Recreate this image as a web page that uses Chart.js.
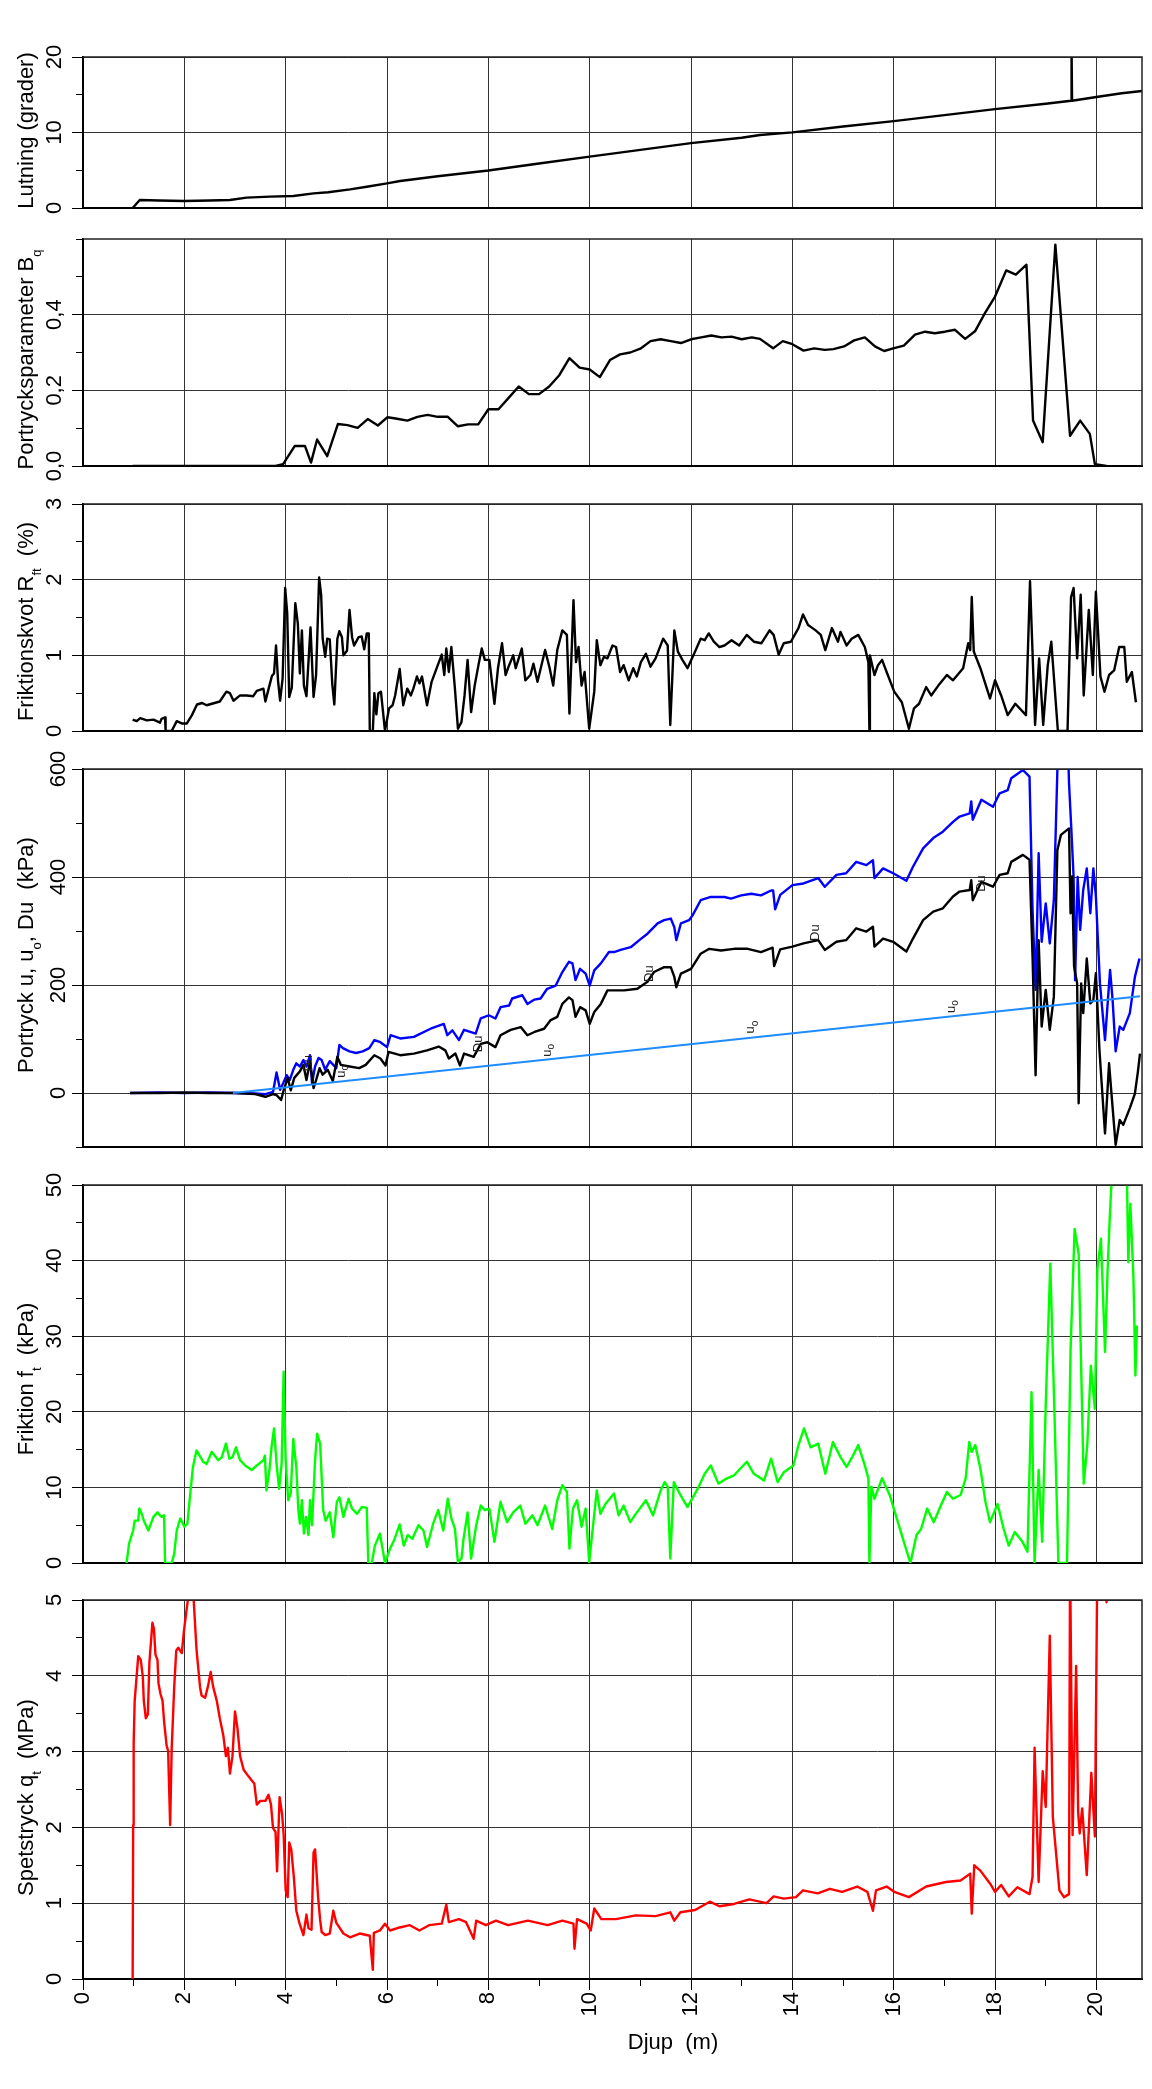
<!DOCTYPE html>
<html lang="sv">
<head>
<meta charset="utf-8">
<title>Sondering – djupdiagram</title>
<script src="https://cdn.jsdelivr.net/npm/chart.js"></script>
<style>
    body { margin: 0; background: #fff; }
    #ram { position: relative; width: 1152px; height: 2089px; background: #fff; overflow: hidden; }
    #ram canvas { position: absolute; left: 0; }
</style>
</head>
<body>
<div id="ram">
    <canvas id="lutningChart"></canvas>
    <canvas id="bqChart"></canvas>
    <canvas id="rfChart"></canvas>
    <canvas id="portryckChart"></canvas>
    <canvas id="friktionChart"></canvas>
    <canvas id="spetsChart"></canvas>
</div>
<script>
// Djupaxel (m)
const DJUP_MIN = 0;
const DJUP_MAX = 20.9;

// Lutning (grader) – [djup, värde]
const lutning = [[0.98,0],[1.12,1.06],[1.5,1.0],[2.0,0.93],[2.5,1.0],[2.9,1.06],[3.23,1.37],[3.69,1.5],[4.15,1.59],[4.55,1.94],[4.84,2.08],[5.27,2.47],[5.6,2.82],[6.0,3.27],[6.26,3.58],[7.0,4.2],[8.0,4.97],[9.0,5.9],[10.0,6.8],[11.0,7.7],[12.0,8.6],[13.0,9.3],[13.36,9.67],[14.0,10.02],[15.0,10.8],[16.0,11.5],[17.0,12.3],[18.0,13.1],[19.0,13.8],[19.5,14.2],[19.51,21],[19.52,14.2],[20.0,14.7],[20.5,15.2],[20.9,15.5]];

// Portrycksparameter Bq
const bq = [[0.98,0],[2.0,0],[3.0,0],[3.8,0],[3.95,0.005],[4.18,0.053],[4.38,0.053],[4.5,0.009],[4.62,0.07],[4.82,0.026],[5.03,0.111],[5.22,0.108],[5.42,0.101],[5.62,0.124],[5.82,0.107],[6.01,0.129],[6.2,0.125],[6.4,0.12],[6.6,0.13],[6.8,0.135],[7.0,0.13],[7.2,0.13],[7.4,0.105],[7.6,0.11],[7.8,0.11],[8.0,0.15],[8.2,0.15],[8.4,0.18],[8.6,0.21],[8.8,0.19],[9.0,0.19],[9.2,0.21],[9.4,0.24],[9.6,0.285],[9.8,0.26],[10.0,0.255],[10.2,0.235],[10.4,0.28],[10.6,0.295],[10.8,0.30],[11.0,0.31],[11.2,0.33],[11.4,0.335],[11.6,0.33],[11.8,0.325],[12.0,0.335],[12.2,0.34],[12.4,0.345],[12.6,0.34],[12.8,0.342],[13.0,0.335],[13.2,0.34],[13.36,0.336],[13.62,0.311],[13.81,0.33],[14.0,0.322],[14.22,0.305],[14.43,0.311],[14.64,0.307],[14.81,0.309],[15.02,0.316],[15.22,0.332],[15.43,0.34],[15.63,0.316],[15.81,0.304],[15.99,0.311],[16.2,0.318],[16.42,0.347],[16.62,0.355],[16.81,0.351],[17.01,0.355],[17.21,0.36],[17.41,0.336],[17.61,0.357],[17.8,0.404],[18.0,0.448],[18.22,0.517],[18.41,0.506],[18.62,0.532],[18.75,0.12],[18.94,0.063],[19.19,0.585],[19.48,0.08],[19.68,0.12],[19.87,0.085],[19.97,0.005],[20.2,0]];

// Friktionskvot Rft (%)
const rf = [[0.98,0.15],[1.06,0.13],[1.13,0.17],[1.26,0.14],[1.39,0.15],[1.52,0.11],[1.55,0.16],[1.62,0.18],[1.63,0],[1.75,0],[1.85,0.13],[1.95,0.1],[2.05,0.1],[2.15,0.21],[2.25,0.35],[2.35,0.37],[2.44,0.34],[2.7,0.39],[2.83,0.52],[2.9,0.5],[2.97,0.4],[3.1,0.47],[3.23,0.47],[3.36,0.46],[3.43,0.53],[3.56,0.56],[3.6,0.39],[3.66,0.55],[3.73,0.73],[3.77,0.76],[3.81,1.13],[3.85,0.66],[3.89,0.4],[3.94,0.7],[3.99,1.89],[4.03,1.56],[4.07,0.45],[4.12,0.57],[4.19,1.69],[4.24,1.42],[4.28,0.76],[4.32,1.33],[4.36,0.6],[4.41,0.46],[4.49,1.37],[4.55,0.45],[4.6,0.74],[4.66,2.03],[4.7,1.8],[4.73,1.22],[4.78,0.98],[4.82,1.22],[4.87,1.21],[4.92,0.62],[4.96,0.35],[5.02,1.22],[5.06,1.32],[5.11,1.24],[5.14,1.0],[5.21,1.06],[5.26,1.6],[5.31,1.24],[5.35,1.13],[5.44,1.24],[5.5,1.25],[5.55,1.08],[5.6,1.29],[5.64,1.29],[5.66,0],[5.72,0],[5.75,0.5],[5.79,0.22],[5.83,0.5],[5.88,0.52],[5.96,0],[6.04,0.3],[6.11,0.34],[6.16,0.47],[6.25,0.82],[6.32,0.34],[6.4,0.56],[6.47,0.47],[6.52,0.56],[6.59,0.72],[6.64,0.63],[6.69,0.72],[6.79,0.34],[6.88,0.65],[6.98,0.83],[7.08,1.01],[7.13,0.74],[7.17,1.09],[7.22,0.78],[7.27,1.11],[7.34,0.56],[7.4,0.03],[7.47,0.12],[7.53,0.47],[7.59,0.94],[7.66,0.25],[7.73,0.6],[7.81,0.89],[7.87,1.09],[7.93,0.94],[8.02,0.94],[8.12,0.36],[8.19,0.83],[8.27,1.16],[8.34,0.74],[8.41,0.87],[8.49,1.0],[8.54,0.83],[8.66,1.09],[8.73,0.67],[8.83,0.74],[8.89,0.89],[8.97,0.65],[9.12,1.07],[9.21,0.83],[9.28,0.6],[9.36,1.07],[9.46,1.33],[9.55,1.27],[9.6,0.23],[9.68,1.73],[9.73,0.91],[9.78,1.11],[9.84,0.6],[9.9,0.78],[9.99,0.03],[10.09,0.52],[10.14,1.2],[10.21,0.87],[10.28,0.98],[10.35,0.96],[10.45,1.13],[10.52,1.11],[10.6,0.78],[10.67,0.87],[10.77,0.67],[10.86,0.83],[10.93,0.72],[11.01,0.91],[11.11,1.02],[11.2,0.85],[11.3,0.96],[11.45,1.22],[11.54,1.13],[11.59,0.08],[11.67,1.33],[11.74,1.05],[11.83,0.94],[11.93,0.83],[12.08,1.05],[12.19,1.22],[12.27,1.2],[12.35,1.29],[12.45,1.18],[12.56,1.11],[12.66,1.13],[12.8,1.2],[12.95,1.13],[13.1,1.27],[13.24,1.18],[13.39,1.16],[13.55,1.33],[13.63,1.27],[13.73,1.01],[13.83,1.16],[13.97,1.18],[14.12,1.36],[14.21,1.54],[14.31,1.4],[14.46,1.33],[14.56,1.27],[14.65,1.07],[14.78,1.36],[14.9,1.18],[14.95,1.31],[15.07,1.13],[15.17,1.22],[15.3,1.27],[15.43,1.11],[15.5,0.91],[15.52,0],[15.53,1.0],[15.62,0.74],[15.69,0.87],[15.77,0.94],[15.86,0.78],[16.01,0.52],[16.16,0.38],[16.3,0.03],[16.4,0.3],[16.5,0.36],[16.64,0.58],[16.74,0.47],[16.88,0.6],[17.05,0.74],[17.17,0.67],[17.37,0.83],[17.47,1.16],[17.51,1.07],[17.54,1.77],[17.58,1.05],[17.71,0.83],[17.9,0.43],[18.0,0.67],[18.12,0.47],[18.25,0.21],[18.4,0.36],[18.61,0.21],[18.69,1.98],[18.79,0.08],[18.87,0.96],[18.95,0.08],[19.04,0.87],[19.11,1.18],[19.24,0],[19.43,0],[19.5,1.77],[19.55,1.89],[19.62,0.96],[19.69,1.8],[19.75,0.47],[19.85,1.6],[19.93,0.74],[19.99,1.84],[20.08,0.72],[20.16,0.52],[20.25,0.74],[20.35,0.8],[20.45,1.11],[20.55,1.11],[20.6,0.65],[20.7,0.78],[20.78,0.38]];

// Portryck u (kPa)
const portryckU = [[0.93,0],[1.5,1],[2.0,0],[2.5,1],[3.0,0],[3.4,-1],[3.6,-2],[3.75,2],[3.82,38],[3.89,6],[3.95,18],[4.02,33],[4.08,24],[4.15,43],[4.21,55],[4.28,49],[4.35,61],[4.41,49],[4.48,70],[4.52,18],[4.58,49],[4.65,65],[4.71,61],[4.78,43],[4.87,59],[5.0,46],[5.06,89],[5.13,83],[5.26,77],[5.39,74],[5.52,77],[5.65,83],[5.75,98],[5.87,94],[6.0,85],[6.07,107],[6.26,101],[6.53,104],[6.86,119],[7.12,128],[7.19,107],[7.29,116],[7.42,98],[7.52,117],[7.75,110],[7.85,138],[8.01,144],[8.14,138],[8.24,159],[8.41,162],[8.47,175],[8.67,181],[8.77,165],[8.91,173],[9.03,175],[9.16,193],[9.33,199],[9.46,224],[9.59,243],[9.66,240],[9.72,209],[9.81,230],[9.92,221],[10.0,199],[10.09,227],[10.22,240],[10.38,261],[10.48,261],[10.61,265],[10.81,270],[10.98,283],[11.14,295],[11.34,314],[11.47,320],[11.6,323],[11.67,307],[11.71,283],[11.8,314],[11.96,320],[12.03,329],[12.19,357],[12.39,363],[12.66,363],[12.79,360],[12.99,366],[13.19,369],[13.38,366],[13.58,375],[13.62,375],[13.66,340],[13.76,367],[14.0,385],[14.22,388],[14.51,398],[14.64,382],[14.87,404],[15.06,407],[15.26,428],[15.46,422],[15.59,431],[15.62,398],[15.79,416],[15.99,407],[16.25,393],[16.38,419],[16.58,453],[16.78,472],[16.97,484],[17.17,502],[17.3,512],[17.5,518],[17.53,540],[17.56,506],[17.73,543],[17.96,530],[18.09,555],[18.25,561],[18.32,583],[18.55,598],[18.68,586],[18.74,339],[18.8,191],[18.86,444],[18.92,280],[19.0,351],[19.08,277],[19.16,357],[19.23,598],[19.3,700],[19.42,700],[19.46,573],[19.5,499],[19.55,400],[19.58,209],[19.63,400],[19.68,302],[19.74,376],[19.81,416],[19.88,333],[19.94,416],[19.99,364],[20.07,203],[20.17,98],[20.27,228],[20.32,172],[20.38,77],[20.46,123],[20.53,117],[20.66,148],[20.76,215],[20.85,249]];

// Portrycksökning Du (kPa)
const portryckDu = [[0.93,0],[1.5,0],[2.0,1],[2.5,0],[3.0,0],[3.4,-2],[3.6,-7],[3.75,-2],[3.82,-4],[3.91,-13],[3.96,5],[4.04,28],[4.1,5],[4.17,28],[4.28,40],[4.35,52],[4.41,24],[4.48,58],[4.55,9],[4.6,24],[4.67,46],[4.73,34],[4.83,43],[4.93,22],[5.02,67],[5.09,52],[5.26,49],[5.45,46],[5.58,52],[5.75,70],[5.87,64],[5.97,51],[6.03,76],[6.26,70],[6.53,73],[6.79,79],[7.02,86],[7.15,79],[7.22,64],[7.35,73],[7.44,51],[7.52,73],[7.71,67],[7.85,91],[7.98,94],[8.14,85],[8.24,107],[8.44,117],[8.64,122],[8.77,107],[8.91,113],[9.1,119],[9.23,135],[9.36,141],[9.46,165],[9.59,177],[9.66,172],[9.72,141],[9.81,159],[9.92,153],[10.0,128],[10.09,150],[10.22,165],[10.35,190],[10.48,190],[10.68,190],[10.94,193],[11.14,206],[11.27,224],[11.47,233],[11.6,233],[11.67,215],[11.71,196],[11.8,221],[12.0,230],[12.19,258],[12.36,267],[12.59,264],[12.85,267],[13.12,267],[13.38,261],[13.61,269],[13.64,235],[13.76,266],[14.0,271],[14.22,277],[14.51,283],[14.64,265],[14.87,280],[15.06,283],[15.26,305],[15.46,299],[15.59,308],[15.62,271],[15.79,286],[15.99,280],[16.25,262],[16.38,286],[16.58,320],[16.78,336],[16.97,342],[17.17,364],[17.3,373],[17.5,376],[17.53,394],[17.56,357],[17.73,391],[17.96,382],[18.09,404],[18.25,407],[18.32,428],[18.55,441],[18.68,432],[18.74,252],[18.8,33],[18.86,283],[18.92,123],[19.0,191],[19.08,117],[19.16,178],[19.23,450],[19.3,478],[19.46,490],[19.49,333],[19.52,401],[19.56,234],[19.62,203],[19.65,-19],[19.7,203],[19.74,148],[19.81,249],[19.88,166],[19.94,172],[19.99,222],[20.06,80],[20.17,-75],[20.25,55],[20.3,-4],[20.38,-96],[20.46,-50],[20.53,-59],[20.66,-28],[20.76,-1],[20.82,40],[20.86,73]];

// Grundvattentryck u0 (kPa)
const portryckU0 = [[2.96,0],[20.86,179]];

// Kurvetiketter i portrycksdiagrammet: [djup, värde, text, index]
const kurvEtiketter = [
    [4.45,55,'Du',''],[7.81,91,'Du',''],[11.17,221,'Du',''],[14.45,297,'Du',''],[17.73,388,'Du',''],
    [5.1,40,'u','o'],[9.16,79,'u','o'],[13.18,122,'u','o'],[17.14,160,'u','o']
];

// Friktion ft (kPa)
const friktion = [[0.86,0],[0.91,2.6],[0.99,4.3],[1.02,5.6],[1.09,5.6],[1.11,7.2],[1.16,6.5],[1.2,5.6],[1.29,4.3],[1.39,6.1],[1.47,6.7],[1.52,6.3],[1.55,6.1],[1.6,6.3],[1.62,0],[1.75,0],[1.8,1.2],[1.85,4.3],[1.92,5.9],[2.0,4.8],[2.06,5.2],[2.11,8.7],[2.17,12.7],[2.24,14.9],[2.37,13.4],[2.44,13.1],[2.54,14.7],[2.67,13.6],[2.74,14.0],[2.82,15.8],[2.89,13.8],[2.95,14.0],[3.02,15.3],[3.1,13.6],[3.2,12.9],[3.33,12.3],[3.43,12.9],[3.56,13.6],[3.59,14.2],[3.62,9.6],[3.68,12.3],[3.72,15.3],[3.77,17.8],[3.82,13.1],[3.87,9.8],[3.92,13.1],[3.96,25.3],[4.0,13.6],[4.05,8.3],[4.1,9.2],[4.15,16.4],[4.21,12.7],[4.25,7.0],[4.28,5.2],[4.32,8.3],[4.36,3.9],[4.4,6.1],[4.45,3.7],[4.48,8.3],[4.52,5.0],[4.58,13.6],[4.62,17.1],[4.68,15.8],[4.74,7.0],[4.79,5.6],[4.87,6.7],[4.94,3.4],[5.01,8.1],[5.06,8.7],[5.14,6.1],[5.24,8.5],[5.31,7.2],[5.41,6.5],[5.5,7.4],[5.6,7.3],[5.63,0],[5.7,0],[5.76,2.3],[5.83,3.4],[5.86,3.9],[5.96,0],[6.06,1.9],[6.14,3.0],[6.25,5.1],[6.33,2.3],[6.41,3.7],[6.5,3.2],[6.62,5.0],[6.72,4.3],[6.79,2.1],[6.91,5.2],[7.01,7.0],[7.11,4.3],[7.2,8.5],[7.27,5.9],[7.34,4.5],[7.4,0.1],[7.47,0.6],[7.51,3.2],[7.59,6.7],[7.66,0.6],[7.76,5.0],[7.85,7.6],[7.93,7.0],[8.02,7.2],[8.12,2.8],[8.24,8.1],[8.37,5.4],[8.49,6.7],[8.63,7.6],[8.73,5.2],[8.87,6.3],[8.97,5.0],[9.12,7.6],[9.26,4.5],[9.36,8.3],[9.46,10.3],[9.55,9.4],[9.6,1.9],[9.67,7.2],[9.75,8.3],[9.84,4.8],[9.92,7.2],[9.99,0.1],[10.14,9.6],[10.21,6.5],[10.31,7.8],[10.48,9.2],[10.57,6.3],[10.67,7.6],[10.8,5.4],[10.91,6.5],[11.11,8.3],[11.25,6.3],[11.4,9.6],[11.48,10.7],[11.54,10.1],[11.59,0.6],[11.66,10.7],[11.79,9.0],[11.93,7.4],[12.13,9.8],[12.27,11.8],[12.39,12.9],[12.54,10.5],[12.71,11.2],[12.85,11.6],[13.1,13.4],[13.24,11.8],[13.44,10.9],[13.58,13.8],[13.71,10.7],[13.83,12.0],[14.02,12.9],[14.12,15.6],[14.23,17.8],[14.36,15.3],[14.51,15.8],[14.65,11.8],[14.8,16.0],[14.95,14.0],[15.07,12.7],[15.18,14.0],[15.3,15.6],[15.43,12.9],[15.5,11.2],[15.52,0],[15.56,10.1],[15.62,8.5],[15.77,11.2],[15.92,9.0],[16.06,5.9],[16.2,2.8],[16.33,0],[16.45,3.7],[16.54,4.5],[16.66,7.2],[16.79,5.4],[16.93,7.6],[17.05,9.4],[17.17,8.5],[17.32,9.0],[17.42,11.2],[17.49,16.0],[17.54,14.7],[17.61,15.6],[17.71,12.5],[17.81,8.1],[17.9,5.4],[18.05,7.8],[18.17,4.5],[18.27,2.3],[18.39,4.1],[18.54,2.8],[18.64,1.5],[18.72,22.6],[18.78,0],[18.86,12.3],[18.93,2.8],[19.0,20.9],[19.09,39.6],[19.17,20.4],[19.25,0],[19.42,0],[19.49,28.1],[19.57,44.2],[19.65,40.9],[19.75,10.5],[19.82,15.6],[19.89,26.1],[19.97,20.4],[20.02,38.9],[20.09,42.9],[20.17,27.9],[20.22,38.5],[20.26,45.1],[20.31,52],[20.45,60],[20.6,52],[20.63,39.8],[20.67,47.5],[20.73,38.0],[20.77,24.8],[20.8,31.4]];

// Spetstryck qt (MPa)
const spetstryck = [[0.98,0],[0.99,2.03],[1.0,3.12],[1.02,3.67],[1.09,4.26],[1.14,4.21],[1.18,3.99],[1.2,3.67],[1.24,3.44],[1.28,3.49],[1.31,4.17],[1.37,4.7],[1.4,4.62],[1.43,4.28],[1.47,4.21],[1.49,3.9],[1.53,3.76],[1.57,3.67],[1.6,3.4],[1.65,3.08],[1.68,3.01],[1.72,2.03],[1.75,3.03],[1.8,3.85],[1.84,4.33],[1.88,4.37],[1.95,4.3],[1.99,4.58],[2.04,4.85],[2.08,5.05],[2.18,5.05],[2.24,4.35],[2.31,3.85],[2.34,3.74],[2.41,3.71],[2.47,3.87],[2.52,4.05],[2.57,3.85],[2.64,3.67],[2.7,3.44],[2.77,3.21],[2.82,2.94],[2.86,3.05],[2.9,2.71],[2.95,2.94],[3.0,3.53],[3.05,3.3],[3.1,2.94],[3.17,2.76],[3.27,2.67],[3.33,2.62],[3.38,2.58],[3.43,2.3],[3.5,2.35],[3.6,2.35],[3.66,2.43],[3.71,2.3],[3.75,1.99],[3.8,1.94],[3.83,1.42],[3.88,2.4],[3.93,2.17],[3.96,1.9],[4.0,1.17],[4.04,1.08],[4.07,1.8],[4.11,1.71],[4.16,1.35],[4.21,0.9],[4.27,0.74],[4.35,0.58],[4.41,0.85],[4.45,0.67],[4.51,0.65],[4.55,1.67],[4.58,1.71],[4.64,1.08],[4.68,0.78],[4.71,0.62],[4.78,0.58],[4.87,0.6],[4.94,0.9],[5.0,0.74],[5.14,0.6],[5.27,0.55],[5.46,0.6],[5.66,0.57],[5.72,0.12],[5.74,0.61],[5.86,0.64],[5.96,0.73],[6.06,0.64],[6.25,0.68],[6.45,0.71],[6.64,0.64],[6.83,0.71],[7.08,0.73],[7.17,0.98],[7.22,0.75],[7.42,0.79],[7.56,0.75],[7.71,0.53],[7.76,0.77],[7.95,0.71],[8.15,0.77],[8.39,0.71],[8.78,0.77],[9.17,0.71],[9.46,0.77],[9.68,0.73],[9.7,0.4],[9.75,0.79],[9.94,0.73],[10.02,0.64],[10.09,0.93],[10.23,0.79],[10.52,0.79],[10.91,0.84],[11.3,0.83],[11.59,0.88],[11.67,0.77],[11.79,0.88],[12.08,0.91],[12.37,1.02],[12.56,0.96],[12.85,0.99],[13.15,1.05],[13.49,1.0],[13.63,1.09],[13.83,1.06],[14.07,1.08],[14.21,1.17],[14.5,1.13],[14.74,1.19],[14.98,1.15],[15.28,1.22],[15.48,1.15],[15.59,0.9],[15.65,1.17],[15.86,1.22],[16.01,1.15],[16.3,1.08],[16.64,1.22],[17.03,1.28],[17.32,1.3],[17.51,1.39],[17.54,0.86],[17.59,1.5],[17.71,1.43],[17.9,1.26],[18.0,1.15],[18.12,1.24],[18.27,1.09],[18.44,1.21],[18.68,1.12],[18.74,1.35],[18.78,3.05],[18.86,1.28],[18.94,2.74],[19.0,2.27],[19.08,4.53],[19.14,2.14],[19.27,1.17],[19.36,1.08],[19.46,1.12],[19.48,5.6],[19.53,1.9],[19.6,4.13],[19.64,2.2],[19.67,1.92],[19.72,2.25],[19.81,1.37],[19.9,2.72],[19.97,1.88],[20.02,5.6],[20.15,5.8],[20.2,4.97],[20.23,5.8]];

const TYP = '"Liberation Sans", Arial, Helvetica, sans-serif';
const TICK_STORLEK = 22;
const GRID_FARG = '#333';
const LINJE_BREDD = 2.4;

// Gör om [djup, värde]-par till punkter för Chart.js
function punkter(lista) {
    return lista.map(([x, y]) => ({ x, y }));
}

// Bredaste etiketten (behövs för att centrera roterade y-etiketter)
function bredastEtikett(texter) {
    const c = document.createElement('canvas').getContext('2d');
    c.font = TICK_STORLEK + 'px ' + TYP;
    return Math.max(...texter.map(t => c.measureText(t).width));
}

// Plugin: axeltitel med nedsänkt index
const axelTitel = {
    id: 'axelTitel',
    afterDraw(chart, args, opts) {
        const { ctx, chartArea } = chart;
        if (opts.delar) {
            const mitt = (chartArea.top + chartArea.bottom) / 2 + (opts.dy || 0);
            ctx.save();
            ctx.translate(33, mitt);
            ctx.rotate(-Math.PI / 2);
            ctx.fillStyle = '#000';
            ctx.textBaseline = 'alphabetic';
            ctx.textAlign = 'left';
            const font = d => (d.sub ? '13px ' : '22px ') + TYP;
            let bredd = 0;
            opts.delar.forEach(d => { ctx.font = font(d); bredd += ctx.measureText(d.t).width; });
            let x = -bredd / 2;
            opts.delar.forEach(d => {
                ctx.font = font(d);
                ctx.fillText(d.t, x, d.sub ? 8 : 0);
                x += ctx.measureText(d.t).width;
            });
            ctx.restore();
        }
        if (opts.djup) {
            ctx.save();
            ctx.font = '22px ' + TYP;
            ctx.fillStyle = '#000';
            ctx.textAlign = 'center';
            ctx.textBaseline = 'alphabetic';
            ctx.fillText(opts.djup.text, opts.djup.x, opts.djup.y);
            ctx.restore();
        }
    }
};

// Plugin: ram (överkant och högerkant)
const ramLinje = {
    id: 'ramLinje',
    afterDatasetsDraw(chart) {
        const { ctx, chartArea: a } = chart;
        ctx.save();
        ctx.strokeStyle = '#222';
        ctx.lineWidth = 1.5;
        ctx.beginPath();
        ctx.moveTo(a.left, a.top);
        ctx.lineTo(a.right, a.top);
        ctx.lineTo(a.right, a.bottom);
        ctx.stroke();
        ctx.restore();
    }
};

// Plugin: små roterade etiketter längs kurvorna (Du, u0)
const kurvText = {
    id: 'kurvText',
    afterDatasetsDraw(chart, args, opts) {
        if (!opts.lista) return;
        const { ctx, scales } = chart;
        ctx.save();
        ctx.fillStyle = '#222';
        ctx.textBaseline = 'middle';
        opts.lista.forEach(([djup, varde, text, index]) => {
            const px = scales.x.getPixelForValue(djup);
            const py = scales.y.getPixelForValue(varde);
            ctx.save();
            ctx.translate(px, py);
            ctx.rotate(-Math.PI / 2);
            ctx.font = '13px ' + TYP;
            const w1 = ctx.measureText(text).width;
            ctx.font = '10px ' + TYP;
            const w2 = index ? ctx.measureText(index).width : 0;
            const x = -(w1 + w2) / 2;
            ctx.font = '13px ' + TYP;
            ctx.fillText(text, x, 0);
            if (index) {
                ctx.font = '10px ' + TYP;
                ctx.fillText(index, x + w1, 4);
            }
            ctx.restore();
        });
        ctx.restore();
    }
};

// Panelernas inställningar
const heltal = v => String(v);
const decimal = v => (v > 0.55 ? '' : v.toFixed(1).replace('.', ','));

const paneler = [
    { id: 'lutningChart', topp: 57, botten: 208, min: 0, max: 20, steg: 10, delsteg: 5, fmt: heltal,
      titel: [{ t: 'Lutning (grader)' }], dy: -2,
      serier: [{ data: lutning, farg: '#000' }] },
    { id: 'bqChart', topp: 239, botten: 466, min: 0, max: 0.6, steg: 0.2, delsteg: 0.1, fmt: decimal,
      titel: [{ t: 'Portrycksparameter B' }, { t: 'q', sub: true }], dy: 7,
      serier: [{ data: bq, farg: '#000' }] },
    { id: 'rfChart', topp: 504, botten: 731, min: 0, max: 3, steg: 1, delsteg: 0.5, fmt: heltal,
      titel: [{ t: 'Friktionskvot R' }, { t: 'ft', sub: true }, { t: '  (%)' }], dy: 4,
      serier: [{ data: rf, farg: '#000' }] },
    { id: 'portryckChart', topp: 769, botten: 1147, min: -100, max: 600, steg: 200, delsteg: 100, fmt: heltal,
      titel: [{ t: 'Portryck u, u' }, { t: 'o', sub: true }, { t: ', Du  (kPa)' }], dy: -3,
      serier: [
          { data: portryckU0, farg: '#1e8cff', bredd: 2 },
          { data: portryckDu, farg: '#000' },
          { data: portryckU, farg: '#0000ff' }
      ],
      etiketter: kurvEtiketter },
    { id: 'friktionChart', topp: 1185, botten: 1563, min: 0, max: 50, steg: 10, delsteg: 5, fmt: heltal,
      titel: [{ t: 'Friktion f' }, { t: 't', sub: true }, { t: '  (kPa)' }], dy: 5,
      serier: [{ data: friktion, farg: '#00ff00' }] },
    { id: 'spetsChart', topp: 1600, botten: 1979, min: 0, max: 5, steg: 1, delsteg: 0.5, fmt: heltal,
      titel: [{ t: 'Spetstryck q' }, { t: 't', sub: true }, { t: '  (MPa)' }], dy: 8,
      serier: [{ data: spetstryck, farg: '#ff0000' }], sista: true }
];

// Skapa ett diagram per panel
function skapaPanel(p) {
    const canvas = document.getElementById(p.id);
    const ovan = 25;
    const canvasTopp = p.topp - ovan;
    const hojd = (p.sista ? 2089 : p.botten + 25) - canvasTopp;
    const xHojd = p.sista ? 100 : 0;
    const under = hojd - (p.botten - canvasTopp) - xHojd;

    canvas.width = 1152;
    canvas.height = hojd;
    canvas.style.width = '1152px';
    canvas.style.height = hojd + 'px';
    canvas.style.top = canvasTopp + 'px';

    const etiketter = [];
    for (let v = p.min; v <= p.max + 1e-9; v += p.steg) etiketter.push(p.fmt(Math.round(v * 1000) / 1000));
    const yPadding = 17 - bredastEtikett(etiketter) / 2;

    const scales = {
        x: {
            type: 'linear', position: 'bottom', min: DJUP_MIN, max: DJUP_MAX, weight: 1,
            ticks: {
                display: !!p.sista, stepSize: 2, includeBounds: false, autoSkip: false,
                minRotation: 90, maxRotation: 90, padding: 2, color: '#000',
                font: { family: TYP, size: TICK_STORLEK }, callback: v => String(v)
            },
            grid: { color: GRID_FARG, lineWidth: 1, drawTicks: !!p.sista, tickLength: 11, tickColor: '#000' },
            border: { display: true, width: 2, color: '#000' },
            afterFit: s => { s.height = xHojd; }
        },
        y: {
            type: 'linear', position: 'left', min: p.min, max: p.max, weight: 1,
            ticks: {
                stepSize: p.steg, autoSkip: false, includeBounds: false,
                minRotation: 90, maxRotation: 90, crossAlign: 'center', padding: yPadding,
                color: '#000', font: { family: TYP, size: TICK_STORLEK },
                callback: v => p.fmt(v)
            },
            grid: {
                color: c => (c.tick && p.fmt(c.tick.value) === '' ? 'rgba(0,0,0,0)' : GRID_FARG),
                tickColor: c => (c.tick && p.fmt(c.tick.value) === '' ? 'rgba(0,0,0,0)' : '#000'),
                lineWidth: 1, tickLength: 11
            },
            border: { display: true, width: 2, color: '#000' },
            afterFit: s => { s.width = 83; }
        },
        ym: {
            type: 'linear', position: 'left', min: p.min, max: p.max, weight: 0,
            ticks: { display: false, stepSize: p.delsteg },
            grid: { drawOnChartArea: false, tickLength: 7, tickColor: '#000', color: '#000' },
            border: { display: false },
            afterFit: s => { s.width = 0; }
        }
    };

    if (p.sista) {
        scales.xm = {
            type: 'linear', position: 'bottom', min: DJUP_MIN, max: DJUP_MAX, weight: 0,
            ticks: { display: false, stepSize: 1, includeBounds: false },
            grid: { drawOnChartArea: false, tickLength: 7, tickColor: '#000', color: '#000' },
            border: { display: false },
            afterFit: s => { s.height = 0; }
        };
    }

    return new Chart(canvas, {
        type: 'line',
        data: {
            datasets: p.serier.map(s => ({
                data: punkter(s.data),
                borderColor: s.farg,
                borderWidth: s.bredd || LINJE_BREDD,
                pointRadius: 0,
                tension: 0,
                fill: false,
                borderJoinStyle: 'round',
                xAxisID: 'x',
                yAxisID: 'y'
            }))
        },
        options: {
            responsive: false,
            devicePixelRatio: 1,
            animation: false,
            events: [],
            layout: { padding: { top: ovan, bottom: under, left: 0, right: 10 } },
            scales,
            plugins: {
                legend: { display: false },
                tooltip: { enabled: false },
                axelTitel: {
                    delar: p.titel,
                    dy: p.dy,
                    djup: p.sista ? { text: 'Djup  (m)', x: 673, y: 2049 - canvasTopp } : null
                },
                kurvText: { lista: p.etiketter || null }
            }
        },
        plugins: [axelTitel, ramLinje, kurvText]
    });
}

paneler.forEach(skapaPanel);
</script>
</body>
</html>
